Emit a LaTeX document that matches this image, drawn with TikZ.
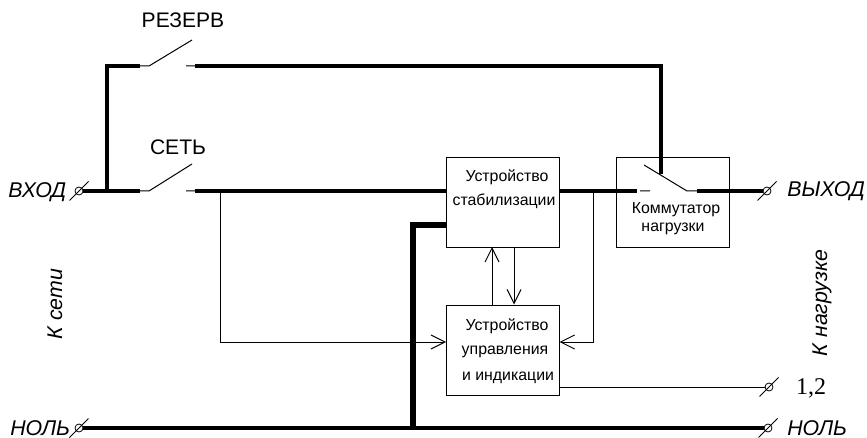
\documentclass[tikz,border=0pt]{standalone}
\usepackage{fontspec}
\setmainfont{Liberation Sans}
\newfontfamily\serifnum{Liberation Serif}
\usetikzlibrary{arrows.meta}
\tikzset{
  x=0.75pt,y=-0.75pt,
  thin line/.style={line width=0.75pt,line cap=butt},
  power/.style={line width=3.4pt,line join=miter,line cap=butt},
  barb/.style={thin line,-{Straight Barb[length=10.5pt,width=10.5pt,line width=0.75pt]}},
  blockbox/.style={draw,line width=0.8pt,minimum width=85pt,minimum height=67.5pt,inner sep=0pt,anchor=north west},
  inbox/.style={font=\fontsize{11.9pt}{13pt}\selectfont,inner sep=0pt},
  big/.style={font=\fontsize{15.8pt}{18pt}\selectfont,inner sep=0pt},
  bigit/.style={font=\fontsize{16pt}{18pt}\selectfont\itshape,inner sep=0pt},
  termn/.style={draw,circle,line width=0.6pt,minimum size=6pt,inner sep=0pt},
}
\newcommand{\termn}[2]{\node[termn] (#1) at (#2) {};
  \draw[line width=0.6pt] (#1) ++(-9.5,9.5) -- ++(19,-19);}
\begin{document}
\begin{tikzpicture}
\useasboundingbox (0,0) rectangle (867,438);
% blocks
\node[blockbox] (stab) at (446,157) {};
\node[blockbox] (ctrl) at (446,304.5) {};
\node[blockbox] (comm) at (616,157) {};
\node[inbox] at (507,177) (s1) {Устройство};
\node[inbox] at (504,201) (s2) {стабилизации};
\node[inbox] at (507,326) (c1) {Устройство};
\node[inbox] at (505,352) (c2) {управления};
\node[inbox] at (508,378) (c3) {и индикации};
\node[inbox] at (676,210) (k1) {Коммутатор};
\node[inbox] at (673,229) (k2) {нагрузки};
% coordinates
\coordinate (a0) at (107,66);
\coordinate (a1) at (140,66);
\coordinate (a2) at (149,66);
\coordinate (a3) at (192,40);
\coordinate (a4) at (186,66);
\coordinate (a5) at (195,66);
\coordinate (a6) at (661,66);
\coordinate (a7) at (661,174);
\coordinate (b0) at (107,191);
\coordinate (b1) at (140,191);
\coordinate (b2) at (149,191);
\coordinate (b3) at (192,164);
\coordinate (b4) at (186,191);
\coordinate (b5) at (195,191);
\coordinate (b6) at (446,191);
\coordinate (b7) at (220,191);
\coordinate (b8) at (220,342);
\coordinate (c5) at (559,191);
\coordinate (c6) at (637,191);
\coordinate (c7) at (640,191);
\coordinate (c8) at (650,191);
\coordinate (d1) at (644,165);
\coordinate (d2) at (687,191);
\coordinate (d3) at (697,191);
\coordinate (e1) at (593,191);
\coordinate (e2) at (593,342);
\coordinate (n1) at (413,428);
\coordinate (n2) at (413,225);
\coordinate (n3) at (446,225);
\coordinate (up1) at (492,304.5);
\coordinate (up2) at (492,247);
\coordinate (dn1) at (514,247);
\coordinate (dn2) at (514,304.5);
\coordinate (in1) at (446,342);
\coordinate (in2) at (559.5,342);
\coordinate (o1) at (559.5,387);
% terminals
\termn{tin}{79,191}
\termn{tnl}{79,428}
\termn{tout}{767,191}
\termn{tnr}{768,428}
\termn{tctl}{769,387}
% power
\draw[power] (a1) -- (a0) -- (b0);
\draw[power] (tin.east) -- (b1);
\draw[power] (a5) -- (a6) -- (a7);
\draw[power] (b5) -- (b6);
\draw[power] (c5) -- (c6);
\draw[power] (d3) -- (tout.west);
\draw[power] (tnl.east) -- (tnr.west);
\draw[line width=3.8pt,line join=miter] (n1) -- (n2) -- (n3);
% contacts
\draw[thin line] (a1) -- (a2) -- (a3) (a4) -- (a5);
\draw[thin line] (b1) -- (b2) -- (b3) (b4) -- (b5);
\draw[thin line] (c7) -- (c8) (d1) -- (d2) -- (d3);
% signals
\draw[barb] (b7) -- (b8) -- (in1);
\draw[barb] (e1) -- (e2) -- (in2);
\draw[barb] (up1) -- (up2);
\draw[barb] (dn1) -- (dn2);
\draw[thin line] (o1) -- (tctl.west);
% labels
\node[big] (rez) at (183,20) {РЕЗЕРВ};
\node[big] (set) at (178,147) {СЕТЬ};
\node[bigit,anchor=west] (vin) at (8,192) {ВХОД};
\node[bigit,anchor=west] (vout) at (787,191) {ВЫХОД};
\node[bigit,anchor=west] (nl) at (10,428) {НОЛЬ};
\node[bigit,anchor=west] (nr) at (787,428) {НОЛЬ};
\node[bigit,rotate=90] (ks) at (55,304) {К сети};
\node[bigit,rotate=90] (kn) at (822,303) {К нагрузке};
\node[font=\serifnum\fontsize{18pt}{20pt}\selectfont,inner sep=0pt] (num) at (811,388) {1,2};
\end{tikzpicture}
\end{document}
